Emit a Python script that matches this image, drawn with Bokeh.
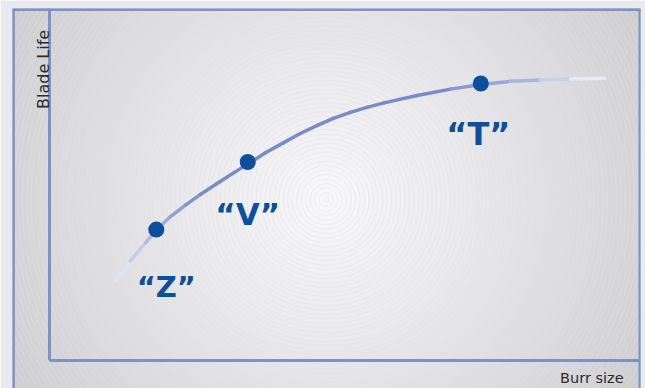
import numpy as np
from bokeh.plotting import figure
from bokeh.models import ColumnDataSource, Range1d, LinearAxis, FixedTicker, Span, Label
from bokeh.core.properties import value
from bokeh.embed import file_html
from bokeh.resources import INLINE

# ---------------- data (arbitrary units) ----------------
blade_grades = ["Z", "V", "T"]
grade_burr_size = [18.1, 33.6, 73.1]
grade_blade_life = [37.2, 56.4, 78.7]

curve_burr_size = [11.2, 13.7, 16.3, 18.1, 20.5, 23.1, 25.6, 28.4, 31.2, 33.6, 36.6, 39.7,
                   42.5, 45.4, 48.1, 51.0, 53.8, 56.7, 62.3, 68.0, 73.1, 78.1, 83.2, 88.3, 94.1]
curve_blade_life = [22.7, 28.3, 33.5, 37.1, 40.9, 44.2, 47.2, 50.3, 53.3, 55.8, 59.0, 61.9,
                    64.5, 66.8, 68.8, 70.5, 71.9, 73.2, 75.3, 77.1, 78.4, 79.3, 79.7, 80.0, 80.2]

x_axis_title = "Burr size"
y_axis_title = "Blade Life"

# ---------------- styles ----------------
FRAME_BLUE = "#7b93c8"
DOT_BLUE = "#0d4f9c"
TEXT_GREY = "#2b2b2b"
label_font_sizes = ["29px", "31px", "32px"]
label_dx = [10, 0, -2.5]
label_dy = [57, 52, 51]

X_RANGE = (-6.271, 100.169)
Y_RANGE = (-7.955, 100.0)
GLOW_X, GLOW_Y = 46.9, 45.7

p = figure(width=645, height=388, output_backend="svg", toolbar_location=None,
           x_axis_type=None, y_axis_type=None,
           x_range=Range1d(*X_RANGE), y_range=Range1d(*Y_RANGE),
           min_border_left=12, min_border_right=5, min_border_top=8, min_border_bottom=0)
p.border_fill_color = "#e9eaf0"
p.background_fill_color = "#d0d1d3"
p.outline_line_color = None

# radial glow background with fine concentric rings
radii = np.arange(385, 0, -4.5)
tt = np.clip(radii / 370.0, 0, 1)
grey = 248 - 42 * tt ** 1.15
fills = ["#%02x%02x%02x" % (int(g), int(g), int(min(255, g + 2))) for g in grey]
bg = ColumnDataSource(dict(x=[GLOW_X] * len(radii), y=[GLOW_Y] * len(radii), r=radii, c=fills))
p.circle("x", "y", radius="r", radius_units="screen", fill_color="c",
         line_color="#e2e2e4", line_width=0.6, line_alpha=0.8, source=bg)

# frame borders (left, top, right)
p.add_layout(Span(location=-6.119, dimension="height", line_color=FRAME_BLUE, line_width=3))
p.add_layout(Span(location=100.08, dimension="height", line_color=FRAME_BLUE, line_width=3))
p.add_layout(Span(location=99.72, dimension="width", line_color=FRAME_BLUE, line_width=3))

# axes crossing at the origin
for side, bnds in (("below", (0, 100)), ("left", (0, 100))):
    ax = LinearAxis(fixed_location=0, ticker=FixedTicker(ticks=[]), bounds=bnds,
                    axis_line_color=FRAME_BLUE, axis_line_width=3,
                    major_tick_line_color=None, minor_tick_line_color=None,
                    major_label_text_color=None)
    p.add_layout(ax, side)

# curve with colour fading at both ends
def seg_color(xm):
    stops = [(11, (236, 240, 250)), (18, (165, 180, 220)), (26, (120, 140, 200)),
             (66, (120, 140, 200)), (80, (165, 180, 222)), (94, (246, 247, 252))]
    if xm <= stops[0][0]:
        c = stops[0][1]
    elif xm >= stops[-1][0]:
        c = stops[-1][1]
    else:
        for (a, ca), (b, cb) in zip(stops[:-1], stops[1:]):
            if a <= xm <= b:
                f = (xm - a) / (b - a)
                c = tuple(ca[i] + (cb[i] - ca[i]) * f for i in range(3))
                break
    return "#%02x%02x%02x" % tuple(int(round(v)) for v in c)

seg = ColumnDataSource(dict(
    x0=curve_burr_size[:-1], y0=curve_blade_life[:-1],
    x1=curve_burr_size[1:], y1=curve_blade_life[1:],
    c=[seg_color((a + b) / 2) for a, b in zip(curve_burr_size[:-1], curve_burr_size[1:])]))
p.segment("x0", "y0", "x1", "y1", line_color="c", line_width=3.5, line_cap="round", source=seg)

# grade points and labels
pts = ColumnDataSource(dict(x=grade_burr_size, y=grade_blade_life,
                            t=["\u201c%s\u201d" % g for g in blade_grades],
                            fs=label_font_sizes, dx=label_dx, dy=label_dy))
p.scatter("x", "y", size=16, fill_color=DOT_BLUE, line_color=None, source=pts)
p.text("x", "y", text="t", x_offset="dx", y_offset="dy", text_font_size="fs",
       text_font=value("DejaVu Sans"), text_font_style="bold", text_color=DOT_BLUE,
       text_align="center", text_baseline="alphabetic", source=pts)

# axis titles
p.add_layout(Label(x=-0.97, y=82.7, text=y_axis_title, angle=90, angle_units="deg",
                   text_align="center", text_baseline="alphabetic",
                   text_font="DejaVu Sans", text_font_size="16px", text_color=TEXT_GREY))
p.add_layout(Label(x=97.3, y=-4.9, text=x_axis_title, text_align="right",
                   text_baseline="alphabetic",
                   text_font="DejaVu Sans", text_font_size="14.5px", text_color=TEXT_GREY))

open("out.html", "w").write(file_html(p, INLINE))
